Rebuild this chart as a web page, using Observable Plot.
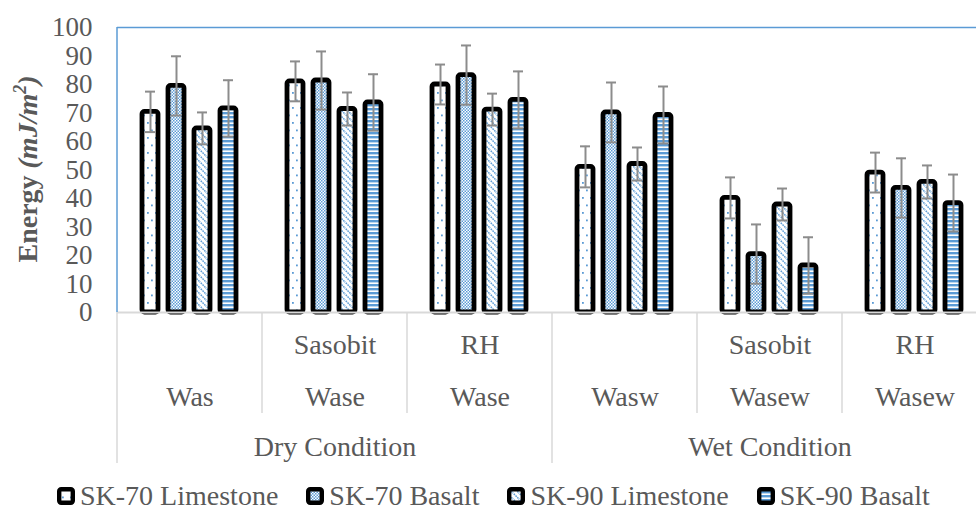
<!DOCTYPE html>
<html>
<head>
<meta charset="utf-8">
<script src="https://cdn.jsdelivr.net/npm/d3@7"></script>
<script src="https://cdn.jsdelivr.net/npm/@observablehq/plot@0.6"></script>
<style>
  body { margin: 0; background: #fff; }
  #chart { position: relative; width: 976px; height: 512px; overflow: hidden; background: #fff;
           font-family: "Liberation Serif", "Times New Roman", serif; }
  #chart svg.plot { display: block; }
  #legend { position: absolute; left: 57px; top: 483px; display: flex; gap: 28px;
            font-size: 28px; line-height: 26px; height: 26px; color: #595959; white-space: nowrap; }
  #legend .item { display: flex; align-items: center; }
  #legend .item svg { margin-right: 5px; }
</style>
</head>
<body>
<div id="chart"></div>
<script>
// ---- data ----
const groups = ["Was", "Sasobit Wase", "RH Wase", "Wasw", "Sasobit Wasew", "RH Wasew"];
const subLabels = ["", "Sasobit", "RH", "", "Sasobit", "RH"];
const mainLabels = ["Was", "Wase", "Wase", "Wasw", "Wasew", "Wasew"];
const conditions = ["Dry Condition", "Wet Condition"];
const conditionGroups = ["Sasobit Wase", "Sasobit Wasew"];
const series = ["SK-70 Limestone", "SK-70 Basalt", "SK-90 Limestone", "SK-90 Basalt"];
const sk70Limestone = [70.4, 81.1, 80.0, 51.1, 40.2, 49.1];
const sk70Basalt    = [79.5, 81.4, 83.3, 70.2, 20.5, 43.7];
const sk90Limestone = [64.6, 71.4, 71.2, 52.1, 37.9, 45.8];
const sk90Basalt    = [71.6, 73.7, 74.6, 69.3, 16.5, 38.4];
const errSk70Limestone = [7.1, 7.0, 7.0, 7.2, 7.2, 7.0];
const errSk70Basalt    = [10.4, 10.2, 10.4, 10.5, 10.4, 10.4];
const errSk90Limestone = [5.6, 5.8, 5.6, 5.8, 5.6, 5.8];
const errSk90Basalt    = [9.9, 9.9, 10.0, 10.0, 9.9, 10.0];

const values = [sk70Limestone, sk70Basalt, sk90Limestone, sk90Basalt];
const errors = [errSk70Limestone, errSk70Basalt, errSk90Limestone, errSk90Basalt];

const rows = [];
groups.forEach((g, gi) => series.forEach((s, si) =>
  rows.push({group: g, series: s, value: values[si][gi], err: errors[si][gi]})));
const groupRows = groups.map((g, i) => ({group: g, sub: subLabels[i], main: mainLabels[i]}));
const condRows = conditions.map((c, i) => ({group: conditionGroups[i], label: c}));

const BLUE = "#5b9bd5";
const GRID = "#d9d9d9";
const TXT = "#595959";
const ERR = "#8c8c8c";
const SERIF = "'Liberation Serif', 'Times New Roman', serif";

const textStyle = {fill: TXT, fontSize: 28, fontFamily: SERIF, lineAnchor: "middle", frameAnchor: "bottom"};

const plot = Plot.plot({
  width: 976,
  height: 470,
  marginLeft: 115,
  marginRight: -12,
  marginTop: 27,
  marginBottom: 158,
  style: {fontFamily: SERIF, fontSize: "27px", color: TXT, background: "white", overflow: "visible"},
  fx: {domain: groups, padding: 0, axis: null},
  x: {domain: series, paddingInner: 0.373, paddingOuter: 0.953, axis: null},
  y: {domain: [0, 100], ticks: 10, tickSize: 0, tickPadding: 25, label: null},
  marks: [
    Plot.ruleY([100], {stroke: BLUE, strokeWidth: 1.5}),
    ...series.map((s, i) => Plot.barY(rows.filter(d => d.series === s), {
      fx: "group", x: "series", y: "value",
      fill: `url(#pat${i})`, stroke: "black", strokeWidth: 4.8, rx: 2.5, strokeLinejoin: "round"
    })),
    Plot.ruleY([0], {stroke: GRID, strokeWidth: 2}),
    Plot.ruleX(rows, {fx: "group", x: "series", y1: d => d.value - d.err, y2: d => d.value + d.err, stroke: ERR, strokeWidth: 2}),
    Plot.tickY(rows, {fx: "group", x: "series", y: d => d.value + d.err, stroke: ERR, strokeWidth: 2, insetLeft: 3, insetRight: 3}),
    Plot.tickY(rows, {fx: "group", x: "series", y: d => d.value - d.err, stroke: ERR, strokeWidth: 2, insetLeft: 3, insetRight: 3}),
    Plot.text(groupRows, {fx: "group", text: "sub", dy: 33, ...textStyle}),
    Plot.text(groupRows, {fx: "group", text: "main", dy: 85, ...textStyle}),
    Plot.text(condRows, {fx: "group", text: "label", dy: 135, ...textStyle})
  ]
});
plot.classList.add("plot");
document.getElementById("chart").appendChild(plot);

// ---- pattern definitions ----
const svg = d3.select(plot);
const defs = svg.insert("defs", ":first-child");
// 0: sparse dots
let p = defs.append("pattern").attr("id", "pat0").attr("patternUnits", "userSpaceOnUse").attr("width", 8).attr("height", 15);
p.append("rect").attr("width", 8).attr("height", 15).attr("fill", "white");
p.append("rect").attr("x", 1).attr("y", 2).attr("width", 1.8).attr("height", 1.8).attr("fill", BLUE);
p.append("rect").attr("x", 5).attr("y", 9.5).attr("width", 1.8).attr("height", 1.8).attr("fill", BLUE);
// 1: checkerboard
p = defs.append("pattern").attr("id", "pat1").attr("patternUnits", "userSpaceOnUse").attr("width", 3).attr("height", 3);
p.append("rect").attr("width", 3).attr("height", 3).attr("fill", "white");
p.append("rect").attr("width", 1.5).attr("height", 1.5).attr("fill", BLUE);
p.append("rect").attr("x", 1.5).attr("y", 1.5).attr("width", 1.5).attr("height", 1.5).attr("fill", BLUE);
// 2: diagonal stripes (\)
p = defs.append("pattern").attr("id", "pat2").attr("patternUnits", "userSpaceOnUse").attr("width", 6).attr("height", 6);
p.append("rect").attr("width", 6).attr("height", 6).attr("fill", "white");
p.append("path").attr("d", "M-1,-1L7,7M-1,5L1,7M5,-1L7,1").attr("stroke", BLUE).attr("stroke-width", 1.5).attr("stroke-dasharray", "1.6,0.9");
// 3: horizontal stripes
p = defs.append("pattern").attr("id", "pat3").attr("patternUnits", "userSpaceOnUse").attr("width", 4).attr("height", 4);
p.append("rect").attr("width", 4).attr("height", 4).attr("fill", "white");
p.append("rect").attr("width", 4).attr("height", 2.4).attr("fill", BLUE);

// ---- axis decorations (from Plot's scales) ----
const fx = plot.scale("fx");
const y = plot.scale("y");
const x0 = fx.apply(groups[0]);
const bw = fx.bandwidth;
const yBase = y.apply(0), yTop = y.apply(100);
const deco = svg.append("g");
deco.append("line").attr("x1", x0).attr("x2", x0).attr("y1", yTop).attr("y2", yBase)
  .attr("stroke", BLUE).attr("stroke-width", 1.5);
for (let i = 0; i <= groups.length; i++) {
  const xx = i < groups.length ? fx.apply(groups[i]) : fx.apply(groups[groups.length - 1]) + bw;
  const long = i % 3 === 0;
  deco.append("line").attr("x1", xx).attr("x2", xx).attr("y1", yBase).attr("y2", long ? 463 : 413)
    .attr("stroke", GRID).attr("stroke-width", 1.5);
}
// y-axis title
const title = svg.append("text")
  .attr("transform", "translate(37,169) rotate(-90)")
  .attr("text-anchor", "middle")
  .attr("font-family", SERIF).attr("font-size", 28).attr("font-weight", "bold")
  .attr("fill", TXT);
title.append("tspan").text("Energy ");
title.append("tspan").attr("font-style", "italic").text("(mJ/m");
title.append("tspan").attr("font-style", "italic").attr("font-size", 18).attr("dy", -11).text("2");
title.append("tspan").attr("font-style", "italic").attr("dy", 11).text(")");

// ---- legend ----
const legend = d3.select("#chart").append("div").attr("id", "legend");
series.forEach((s, i) => {
  const item = legend.append("div").attr("class", "item");
  const sw = item.append("svg").attr("width", 18).attr("height", 18);
  sw.append("rect").attr("x", 2.2).attr("y", 2.2).attr("width", 13.6).attr("height", 13.6).attr("rx", 2)
    .attr("fill", `url(#pat${i})`).attr("stroke", "black").attr("stroke-width", 4.4);
  item.append("span").text(s);
});
</script>
</body>
</html>
